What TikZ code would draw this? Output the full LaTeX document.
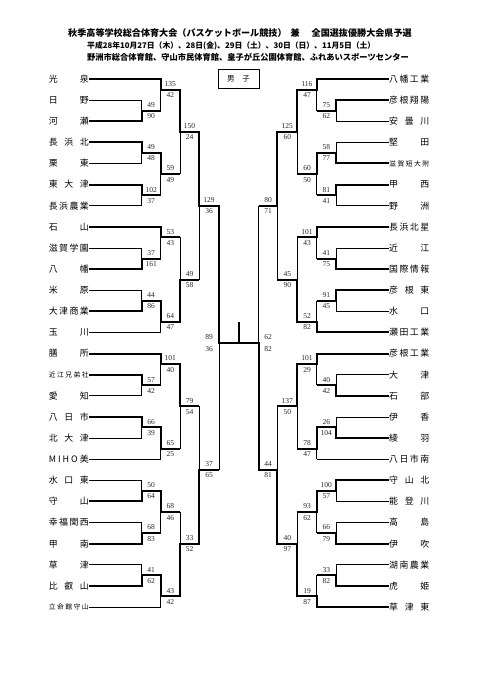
\documentclass[tikz,border=0pt]{standalone}
\usepackage{fontspec}
\newfontfamily\jp{Noto Sans CJK JP}
\newfontfamily\scf{Liberation Serif}
\newcounter{scn}
\newcommand{\yk}[1]{(79+10.56*(#1))}
% #1 xv, #2 ka, #3 kb, #4 kh, #5 xnext, #6 kwin, #7 upper score, #8 lower score
\newcommand{\bmatch}[8]{%
  \draw[thinl] (#1,{\yk{#2}}) -- (#1,{\yk{#3}});
  \draw[thickl] (#1,{\yk{#6}-sign(#4-#6)}) -- (#1,{\yk{#4}}) -- (#5,{\yk{#4}});
  \stepcounter{scn}%
  \node[score] (s\arabic{scn}a) at ({(#1+#5)/2},{\yk{#4}-5.6}) {#7};
  \node[score] (s\arabic{scn}b) at ({(#1+#5)/2},{\yk{#4}+5.6}) {#8};
}
\newcommand{\lteam}[4]{%
  \node[tname,anchor=east] (L#1) at (89,{\yk{#1}}) {\makebox[40pt]{#2}};
  \draw[#3] (L#1.east) -- (#4,{\yk{#1}});
}
\newcommand{\rteam}[4]{%
  \node[tname,anchor=west] (R#1) at (389,{\yk{#1}}) {\makebox[40pt]{#2}};
  \draw[#3] (R#1.west) -- (#4,{\yk{#1}});
}
\newcommand{\smn}{\fontsize{6.8}{7}\selectfont}
\newcommand{\hf}{\hfill{}}
\tikzset{
  thinl/.style={line width=0.75pt},
  thickl/.style={line width=2pt},
  score/.style={font=\scf\fontsize{7.5}{8}\selectfont, inner sep=0pt, text=black!85},
  tname/.style={font=\jp\fontsize{8.9}{9}\selectfont, inner sep=0pt},
  ttl/.style={inner sep=0pt, anchor=west},
}
\begin{document}
\begin{tikzpicture}[x=1pt,y=-1pt]
\useasboundingbox (0,0) rectangle (481,680);
\fill[white] (0,0) rectangle (481,680);
% titles
\node[ttl,font=\jp\bfseries\fontsize{9.1}{9}\selectfont] (t1) at (68,33) {秋季高等学校総合体育大会（バスケットボール競技）\hspace{4pt}{}兼\hspace{12pt}{}全国選抜優勝大会県予選};
\node[ttl,font=\jp\bfseries\fontsize{7.8}{9}\selectfont] (t2) at (87,45.5) {平成28年10月27日（木）、28日(金)、29日（土）、30日（日）、11月5日（土）};
\node[ttl,font=\jp\bfseries\fontsize{8.25}{9}\selectfont] (t3) at (87,57.5) {野洲市総合体育館、守山市民体育館、皇子が丘公園体育館、ふれあいスポーツセンター};
\node[draw,line width=0.8pt,minimum width=41pt,minimum height=19pt,inner sep=0pt,font=\jp\fontsize{7.5}{8}\selectfont] (bx) at (238.5,78.5) {男\hspace{8pt}{}子};

% ---------------- left teams
\lteam{0}{光\hf 泉}{thickl}{160.7}
\lteam{2}{日\hf 野}{thinl}{141.7}
\lteam{4}{河\hf 瀬}{thickl}{141.7}
\lteam{6}{長\hf 浜\hf 北}{thickl}{141.7}
\lteam{8}{栗\hf 東}{thinl}{141.7}
\lteam{10}{東\hf 大\hf 津}{thickl}{141.7}
\lteam{12}{長\hf 浜\hf 農\hf 業}{thinl}{141.7}
\lteam{14}{石\hf 山}{thickl}{160.7}
\lteam{16}{滋\hf 賀\hf 学\hf 園}{thinl}{141.7}
\lteam{18}{八\hf 幡}{thickl}{141.7}
\lteam{20}{米\hf 原}{thinl}{141.7}
\lteam{22}{大\hf 津\hf 商\hf 業}{thickl}{141.7}
\lteam{24}{玉\hf 川}{thinl}{160.7}
\lteam{26}{膳\hf 所}{thickl}{160.7}
\lteam{28}{\smn 近\hf 江\hf 兄\hf 弟\hf 社}{thickl}{141.7}
\lteam{30}{愛\hf 知}{thinl}{141.7}
\lteam{32}{八\hf 日\hf 市}{thickl}{141.7}
\lteam{34}{北\hf 大\hf 津}{thinl}{141.7}
\lteam{36}{M\hf I\hf H\hf O\hf 美}{thinl}{160.7}
\lteam{38}{水\hf 口\hf 東}{thinl}{141.7}
\lteam{40}{守\hf 山}{thickl}{141.7}
\lteam{42}{幸\hf 福\hf 関\hf 西}{thinl}{141.7}
\lteam{44}{甲\hf 南}{thickl}{141.7}
\lteam{46}{草\hf 津}{thinl}{141.7}
\lteam{48}{比\hf 叡\hf 山}{thickl}{141.7}
\lteam{50}{\smn 立\hf 命\hf 館\hf 守\hf 山}{thinl}{160.7}

% left round 1
\bmatch{141.7}{2}{4}{3}{160.7}{4}{49}{90}
\bmatch{141.7}{6}{8}{7}{160.7}{6}{49}{48}
\bmatch{141.7}{10}{12}{11}{160.7}{10}{102}{37}
\bmatch{141.7}{16}{18}{17}{160.7}{18}{37}{161}
\bmatch{141.7}{20}{22}{21}{160.7}{22}{44}{86}
\bmatch{141.7}{28}{30}{29}{160.7}{28}{57}{42}
\bmatch{141.7}{32}{34}{33}{160.7}{32}{66}{39}
\bmatch{141.7}{38}{40}{39}{160.7}{40}{50}{64}
\bmatch{141.7}{42}{44}{43}{160.7}{44}{68}{83}
\bmatch{141.7}{46}{48}{47}{160.7}{48}{41}{62}
% left round 2
\bmatch{160.7}{0}{3}{1}{180}{0}{135}{42}
\bmatch{160.7}{7}{11}{9}{180}{7}{59}{49}
\bmatch{160.7}{14}{17}{15}{180}{14}{53}{43}
\bmatch{160.7}{21}{24}{23}{180}{21}{64}{47}
\bmatch{160.7}{26}{29}{27}{180}{26}{101}{40}
\bmatch{160.7}{33}{36}{35}{180}{33}{65}{25}
\bmatch{160.7}{39}{43}{41}{180}{39}{68}{46}
\bmatch{160.7}{47}{50}{49}{180}{47}{43}{42}
% left round 3
\bmatch{180}{1}{9}{5}{199}{1}{150}{24}
\bmatch{180}{15}{23}{19}{199}{23}{49}{58}
\bmatch{180}{27}{35}{31}{199}{27}{79}{54}
\bmatch{180}{41}{49}{44}{199}{49}{33}{52}
% left round 4
\bmatch{199}{5}{19}{12}{219}{5}{129}{36}
\bmatch{199}{31}{44}{37}{219}{44}{37}{65}

% ---------------- right teams
\rteam{0}{八\hf 幡\hf 工\hf 業}{thickl}{316.7}
\rteam{2}{彦\hf 根\hf 翔\hf 陽}{thickl}{336}
\rteam{4}{安\hf 曇\hf 川}{thinl}{336}
\rteam{6}{堅\hf 田}{thinl}{336}
\rteam{8}{\smn 滋\hf 賀\hf 短\hf 大\hf 附}{thickl}{336}
\rteam{10}{甲\hf 西}{thickl}{336}
\rteam{12}{野\hf 洲}{thinl}{336}
\rteam{14}{長\hf 浜\hf 北\hf 星}{thickl}{316.7}
\rteam{16}{近\hf 江}{thinl}{336}
\rteam{18}{国\hf 際\hf 情\hf 報}{thickl}{336}
\rteam{20}{彦\hf 根\hf 東}{thickl}{336}
\rteam{22}{水\hf 口}{thinl}{336}
\rteam{24}{瀬\hf 田\hf 工\hf 業}{thickl}{316.7}
\rteam{26}{彦\hf 根\hf 工\hf 業}{thickl}{316.7}
\rteam{28}{大\hf 津}{thinl}{336}
\rteam{30}{石\hf 部}{thickl}{336}
\rteam{32}{伊\hf 香}{thinl}{336}
\rteam{34}{綾\hf 羽}{thickl}{336}
\rteam{36}{八\hf 日\hf 市\hf 南}{thinl}{316.7}
\rteam{38}{守\hf 山\hf 北}{thickl}{336}
\rteam{40}{能\hf 登\hf 川}{thinl}{336}
\rteam{42}{高\hf 島}{thinl}{336}
\rteam{44}{伊\hf 吹}{thickl}{336}
\rteam{46}{湖\hf 南\hf 農\hf 業}{thinl}{336}
\rteam{48}{虎\hf 姫}{thickl}{336}
\rteam{50}{草\hf 津\hf 東}{thickl}{316.7}

% right round 1
\bmatch{336}{2}{4}{3}{316.7}{2}{75}{62}
\bmatch{336}{6}{8}{7}{316.7}{8}{58}{77}
\bmatch{336}{10}{12}{11}{316.7}{10}{81}{41}
\bmatch{336}{16}{18}{17}{316.7}{18}{41}{75}
\bmatch{336}{20}{22}{21}{316.7}{20}{91}{45}
\bmatch{336}{28}{30}{29}{316.7}{30}{40}{42}
\bmatch{336}{32}{34}{33}{316.7}{34}{26}{104}
\bmatch{336}{38}{40}{39}{316.7}{38}{100}{57}
\bmatch{336}{42}{44}{43}{316.7}{44}{66}{79}
\bmatch{336}{46}{48}{47}{316.7}{48}{33}{82}
% right round 2
\bmatch{316.7}{0}{3}{1}{297.3}{0}{116}{47}
\bmatch{316.7}{7}{11}{9}{297.3}{7}{60}{50}
\bmatch{316.7}{14}{17}{15}{297.3}{14}{101}{43}
\bmatch{316.7}{21}{24}{23}{297.3}{24}{52}{82}
\bmatch{316.7}{26}{29}{27}{297.3}{26}{101}{29}
\bmatch{316.7}{33}{36}{35}{297.3}{33}{78}{47}
\bmatch{316.7}{39}{43}{41}{297.3}{39}{93}{62}
\bmatch{316.7}{47}{50}{49}{297.3}{50}{19}{87}
% right round 3
\bmatch{297.3}{1}{9}{5}{277.3}{1}{125}{60}
\bmatch{297.3}{15}{23}{19}{277.3}{23}{45}{90}
\bmatch{297.3}{27}{35}{31}{277.3}{27}{137}{50}
\bmatch{297.3}{41}{49}{44}{277.3}{49}{40}{97}
% right round 4
\bmatch{277.3}{5}{19}{12}{258.7}{5}{80}{71}
\bmatch{277.3}{31}{44}{37}{258.7}{44}{44}{81}

% ---------------- final
\draw[thinl] (219,{\yk{12}}) -- (219,{\yk{37}});
\draw[thinl] (258.7,{\yk{12}}) -- (258.7,{\yk{37}});
\draw[thickl] (219,{\yk{12}-1}) -- (219,{\yk{25}}) -- (258.7,{\yk{25}}) -- (258.7,{\yk{37}+1});
\coordinate (champ) at (238.8,321.7);
\coordinate (fmid) at (238.8,{\yk{25}});
\draw[thickl] (fmid) -- (champ);
\node[score] (fl1) at (209,{\yk{25}-5.6}) {89};
\node[score] (fl2) at (209,{\yk{25}+5.6}) {36};
\node[score] (fr1) at (268,{\yk{25}-5.6}) {62};
\node[score] (fr2) at (268,{\yk{25}+5.6}) {82};
\end{tikzpicture}
\end{document}
